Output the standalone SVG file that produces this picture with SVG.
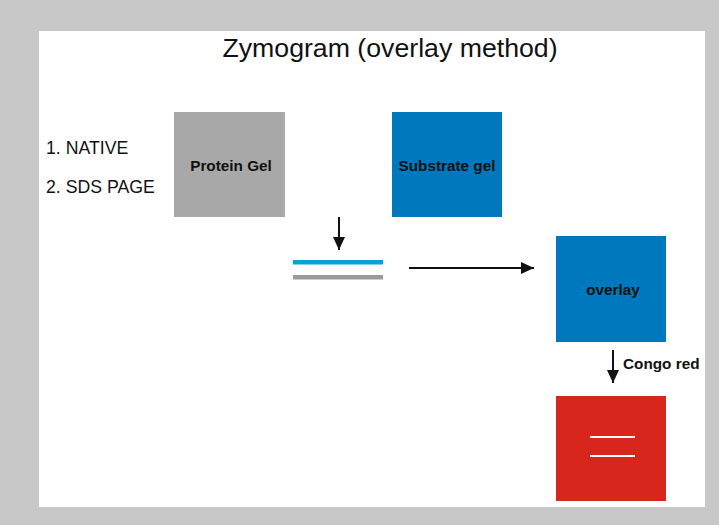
<svg xmlns="http://www.w3.org/2000/svg" width="719" height="525" viewBox="0 0 719 525">
<defs>
<style>
.lbl{font-family:"Liberation Sans",Arial,sans-serif;font-size:17.7px;fill:#111}
.nl{font-family:"Liberation Sans",Arial,sans-serif;font-size:15.3px;font-weight:bold;fill:#111;text-anchor:middle}
.ln{stroke:#111;stroke-width:2;fill:none}
</style>
<marker id="ahd" markerWidth="14" markerHeight="12" refX="13" refY="6" orient="auto" markerUnits="userSpaceOnUse">
<path d="M0,0 L13,6 L0,12 Z" fill="#111"/>
</marker>
</defs>
<rect x="0" y="0" width="719" height="525" fill="#c8c8c8"/>
<rect x="39" y="31" width="666" height="476" fill="#ffffff"/>
<text x="390" y="57" font-family="Liberation Sans,Arial,sans-serif" font-size="26.7" text-anchor="middle" fill="#111">Zymogram (overlay method)</text>
<text class="lbl" x="46" y="154">1. NATIVE</text>
<text class="lbl" x="46" y="193">2. SDS PAGE</text>
<g id="protein-gel">
<rect x="174" y="112" width="111" height="105" fill="#a8a8a8"/>
<text class="nl" x="231" y="171">Protein Gel</text>
</g>
<g id="substrate-gel">
<rect x="392" y="112" width="110" height="105" fill="#0078be"/>
<text class="nl" x="447" y="171">Substrate gel</text>
</g>
<g id="stack">
<rect x="293" y="260" width="90" height="4.5" fill="#00a5d6"/>
<rect x="293" y="275" width="90" height="4.5" fill="#9b9b9b"/>
</g>
<g id="overlay">
<rect x="556" y="236" width="110" height="106" fill="#0078be"/>
<text class="nl" x="613" y="295">overlay</text>
</g>
<g id="stained">
<rect x="556" y="396" width="110" height="105" fill="#d9261c"/>
<line x1="590" y1="437" x2="635" y2="437" stroke="#fff" stroke-width="2"/>
<line x1="590" y1="456" x2="635" y2="456" stroke="#fff" stroke-width="2"/>
</g>
<g id="connectors">
<line class="ln" x1="339" y1="217" x2="339" y2="250" marker-end="url(#ahd)"/>
<line class="ln" x1="409" y1="268" x2="534" y2="268" marker-end="url(#ahd)"/>
<line class="ln" x1="613" y1="350" x2="613" y2="383" marker-end="url(#ahd)"/>
<text x="623" y="369" font-family="Liberation Sans,Arial,sans-serif" font-size="15.3" font-weight="bold" fill="#111">Congo red</text>
</g>
</svg>
